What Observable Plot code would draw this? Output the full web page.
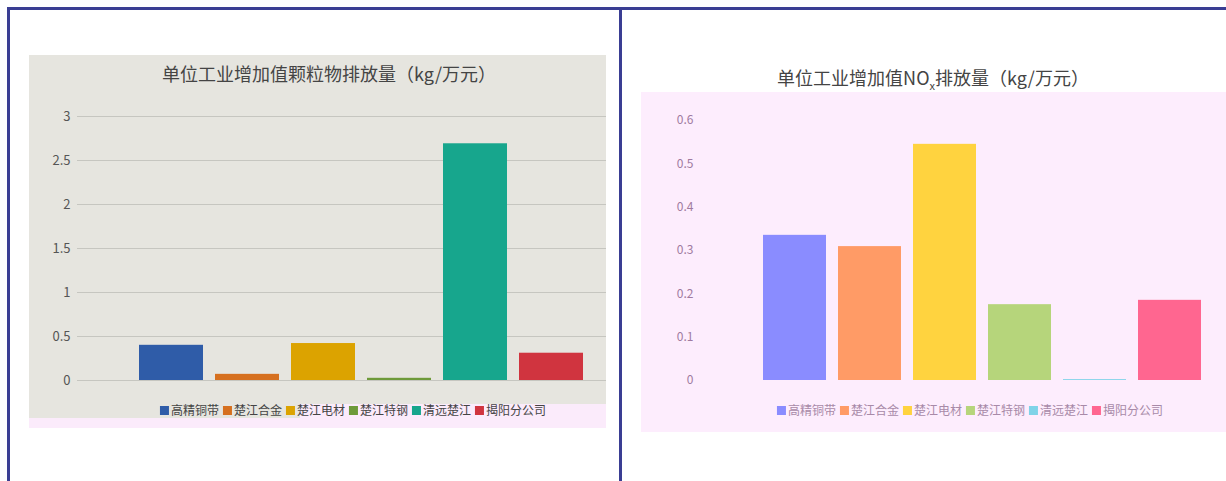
<!DOCTYPE html>
<html><head><meta charset="utf-8">
<script src="https://cdn.jsdelivr.net/npm/d3@7"></script>
<script src="https://cdn.jsdelivr.net/npm/@observablehq/plot@0.6"></script>
<style>
html,body{margin:0;padding:0;background:#fff;}
#root{position:relative;width:1226px;height:481px;overflow:hidden;background:#fff;font-family:"Noto Sans CJK SC","Noto Sans",sans-serif;}
.abs{position:absolute;}
.border{position:absolute;background:#3a3e93;}
.title{position:absolute;font-size:18px;color:#444;white-space:nowrap;transform:translateX(-50%);line-height:20px;}
.legend{position:absolute;display:flex;gap:4px;font-size:12px;white-space:nowrap;transform:translateX(-50%);line-height:16px;align-items:center;}
.legend span.sw{display:inline-block;width:9px;height:9px;margin-right:2px;vertical-align:middle;}
.legend .it{display:flex;align-items:center;}
</style></head>
<body><div id="root"></div>
<script>
const categories = ["高精铜带","楚江合金","楚江电材","楚江特钢","清远楚江","揭阳分公司"];
const pmValues = [0.40, 0.07, 0.42, 0.025, 2.69, 0.31];
const noxValues = [0.335, 0.309, 0.545, 0.175, 0.002, 0.185];
const pmTicks = [0, 0.5, 1, 1.5, 2, 2.5, 3];
const noxTicks = [0, 0.1, 0.2, 0.3, 0.4, 0.5, 0.6];
const pmColors = ["#2f5ca8","#d6701f","#dca300","#6e9a3a","#17a68d","#d0343f"];
const noxColors = ["#8a8cff","#ff9b66","#ffd33f","#b6d57b","#7fd3e8","#ff6690"];
const pmTitle = "单位工业增加值颗粒物排放量（kg/万元）";
const noxTitleParts = ["单位工业增加值NO","x","排放量（kg/万元）"];

const root = document.getElementById("root");
function box(cls, style, html){const d=document.createElement("div");d.className=cls;Object.assign(d.style,style);if(html!==undefined)d.innerHTML=html;root.appendChild(d);return d;}

// backgrounds
box("abs",{left:"29px",top:"55px",width:"577px",height:"363px",background:"#e6e5df"});
box("abs",{left:"29px",top:"418px",width:"577px",height:"10px",background:"#fbebfb"});
box("abs",{left:"300px",top:"404px",width:"306px",height:"14px",background:"#fbebfb"});
box("abs",{left:"641px",top:"92px",width:"585px",height:"340px",background:"#fdedfd"});

const pmData = categories.map((c,i)=>({name:c,value:pmValues[i]}));
const noxData = categories.map((c,i)=>({name:c,value:noxValues[i]}));

// left chart
const left = Plot.plot({
  width:577, height:363,
  marginLeft:48, marginRight:0, marginTop:61, marginBottom:38,
  style:{background:"transparent",fontFamily:"'Noto Sans CJK SC','Noto Sans',sans-serif",fontSize:"13px",color:"#555"},
  x:{domain:categories, range:[104,560], paddingInner:0.158, paddingOuter:0.079, axis:null},
  y:{domain:[0,3]},
  color:{domain:categories, range:pmColors},
  marks:[
    Plot.ruleY(pmTicks,{stroke:"#c6c6c0",strokeWidth:1}),
    Plot.axisY({ticks:pmTicks, tickSize:0, tickPadding:7, tickFormat:d=>String(d), label:null, fill:"#555"}),
    Plot.barY(pmData,{x:"name",y:"value",fill:"name"})
  ]
});
left.style.position="absolute";left.style.left="29px";left.style.top="55px";
root.appendChild(left);

// right chart
const right = Plot.plot({
  width:585, height:340,
  marginLeft:58, marginRight:0, marginTop:28, marginBottom:52,
  style:{background:"transparent",fontFamily:"'Noto Sans CJK SC','Noto Sans',sans-serif",fontSize:"12px",color:"#a07aa0"},
  x:{domain:categories, range:[116,566], paddingInner:0.16, paddingOuter:0.08, axis:null},
  y:{domain:[0,0.6]},
  color:{domain:categories, range:noxColors},
  marks:[
    Plot.axisY({ticks:noxTicks, tickSize:0, tickPadding:6, tickFormat:d=>String(d), label:null, fill:"#a07aa0"}),
    Plot.barY(noxData,{x:"name",y:"value",fill:"name"})
  ]
});
right.style.position="absolute";right.style.left="641px";right.style.top="92px";
root.appendChild(right);

// titles
box("title",{left:"329px",top:"63px"}, pmTitle);
box("title",{left:"933px",top:"67px"}, noxTitleParts[0]+"<sub style='font-size:11px'>"+noxTitleParts[1]+"</sub>"+noxTitleParts[2]);

// legends
function legend(x,y,colors,textColor){
  const html = categories.map((c,i)=>`<div class="it"><span class="sw" style="background:${colors[i]}"></span><span style="color:${textColor}">${c}</span></div>`).join("");
  box("legend",{left:x+"px",top:y+"px"},html);
}
legend(353,402,pmColors,"#444");
legend(970,402,noxColors,"#a88aa8");

// borders
box("border",{left:"7px",top:"7px",width:"1219px",height:"3px"});
box("border",{left:"7px",top:"7px",width:"3px",height:"474px"});
box("border",{left:"619px",top:"7px",width:"3px",height:"474px"});
</script></body></html>
